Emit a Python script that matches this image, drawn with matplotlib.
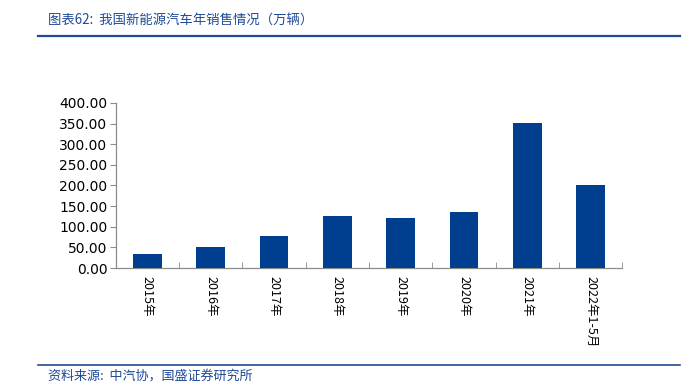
import matplotlib
matplotlib.use("Agg")
import matplotlib.pyplot as plt
from matplotlib.lines import Line2D
import numpy as np

plt.rcParams["font.family"] = ["Noto Sans CJK SC", "DejaVu Sans"]

# data
categories = ["2015年", "2016年", "2017年", "2018年", "2019年", "2020年", "2021年", "2022年1-5月"]
sales = [33.1, 50.7, 77.7, 125.6, 120.6, 136.7, 352.1, 200.3]
yticks = [0, 50, 100, 150, 200, 250, 300, 350, 400]

BAR = "#003E90"
AXIS = "#8C8C8C"
BLUE_TXT = "#1F4A96"

fig = plt.figure(figsize=(6.93, 3.84), dpi=100)
ax = fig.add_axes([0.167, 0.302, 0.731, 0.430])

x = np.arange(len(categories))
ax.bar(x, sales, width=0.45, color=BAR, zorder=3)

ax.set_xlim(-0.5, len(categories) - 0.5)
ax.set_ylim(0, 400)
ax.set_yticks(yticks)
ax.set_yticklabels([f"{v:.2f}" for v in yticks], fontsize=10, family="DejaVu Sans")
ax.tick_params(axis="y", direction="out", length=4, color=AXIS, pad=2)

# category labels, rotated, ticks at boundaries
ax.set_xticks(x)
ax.set_xticklabels(categories, rotation=270, fontsize=9, va="top", ha="center")
ax.tick_params(axis="x", length=0, pad=6)
ax.set_xticks(np.arange(len(categories) + 1) - 0.5, minor=True)
ax.tick_params(axis="x", which="minor", direction="in", length=4, color=AXIS)

for s in ("top", "right"):
    ax.spines[s].set_visible(False)
for s in ("left", "bottom"):
    ax.spines[s].set_color(AXIS)
    ax.spines[s].set_linewidth(0.9)

# header / footer
fig.add_artist(Line2D([0.055, 0.981], [0.906, 0.906], color="#1F4A96", lw=1.6))
fig.add_artist(Line2D([0.055, 0.981], [0.049, 0.049], color="#1F4A96", lw=1.2))
fig.text(0.069, 0.945, "图表62:  我国新能源汽车年销售情况（万辆）", fontsize=9.6,
         color=BLUE_TXT, ha="left", va="center")
fig.text(0.069, 0.022, "资料来源:  中汽协，国盛证券研究所", fontsize=9.4,
         color=BLUE_TXT, ha="left", va="center")

fig.savefig("out.png", dpi=100)
